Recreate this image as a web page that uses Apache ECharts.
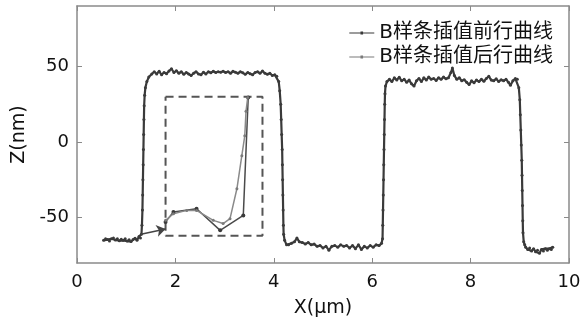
<!DOCTYPE html>
<html lang="zh">
<head>
    <meta charset="UTF-8">
    <title>B样条插值</title>
    <script src="https://cdn.jsdelivr.net/npm/echarts@6/dist/echarts.min.js"></script>
</head>
<body style="margin:0">
<div id="main" style="width: 584px;height:333px;"></div>

<script type="text/javascript">
    // 表面轮廓数据 [X(μm), Z(nm)]，按段读取
    var baseLeft = [[0.54,-65],[0.58,-64],[0.62,-64.5],[0.66,-65.5],[0.70,-64],[0.74,-63.5],[0.78,-64.8],[0.82,-64],
        [0.86,-65.2],[0.90,-64.3],[0.94,-65],[0.98,-64],[1.02,-65.5],[1.06,-64.6],[1.10,-65.8],[1.14,-64.5],
        [1.18,-63.6],[1.22,-65],[1.26,-62.5],[1.29,-63.5],[1.31,-61]];
    var riseLeft = [[1.32,-55],[1.33,-45],[1.335,-35],[1.34,-25],[1.345,-15],[1.35,-5],[1.355,5],[1.36,15],
        [1.365,24],[1.375,31],[1.39,36],[1.42,40],[1.46,43]];
    var topLeft = [[1.52,45],[1.57,46.5],[1.62,45],[1.67,46.8],[1.72,44.5],[1.77,46],[1.82,45.2],[1.87,47],[1.92,48.5],
        [1.97,46],[2.02,47.2],[2.07,45.5],[2.12,46.5],[2.17,44.8],[2.22,46],[2.27,45],[2.32,44],[2.37,45.5],
        [2.42,46.5],[2.47,45],[2.52,44.5],[2.57,46.2],[2.62,45],[2.67,46.5],[2.72,45.8],[2.77,46.8],[2.82,46],
        [2.87,46.5],[2.92,46.2],[2.97,46.8],[3.02,46],[3.07,46.5],[3.12,45.5],[3.17,46.8],[3.22,46.2],[3.27,45.5],
        [3.32,46.5],[3.37,45.8],[3.42,44.8],[3.47,46],[3.52,45.2],[3.57,44.5],[3.62,46],[3.67,46.5],[3.72,45.5],
        [3.77,47],[3.82,45.5],[3.87,44.8],[3.92,45.5],[3.97,44],[4.02,44.5],[4.06,43.5]];
    var fallLeft = [[4.10,40],[4.12,34],[4.14,25],[4.15,15],[4.16,5],[4.17,-5],[4.175,-15],[4.18,-25],[4.185,-35],
        [4.19,-45],[4.195,-55],[4.20,-61],[4.22,-65],[4.26,-68]];
    var baseMid = [[4.30,-68],[4.36,-67],[4.42,-66],[4.47,-63.5],[4.52,-66],[4.58,-66.5],[4.64,-67.5],[4.70,-66.5],
        [4.76,-68],[4.82,-67.5],[4.88,-69],[4.94,-68.5],[5.00,-70],[5.06,-69],[5.12,-71.5],[5.18,-69],[5.24,-68.5],
        [5.30,-69.5],[5.36,-68],[5.42,-69],[5.48,-68.5],[5.54,-70],[5.60,-68.5],[5.66,-70.5],[5.72,-68],[5.78,-71],
        [5.84,-69],[5.90,-70],[5.96,-68.5],[6.02,-69.5],[6.08,-68],[6.14,-68.5],[6.19,-67]];
    var riseRight = [[6.21,-64],[6.215,-55],[6.22,-45],[6.225,-35],[6.23,-25],[6.235,-15],[6.24,-5],[6.245,5],
        [6.25,15],[6.255,25],[6.26,32],[6.27,37]];
    var topRight = [[6.30,40],[6.35,41.5],[6.40,40],[6.45,42.5],[6.50,41],[6.55,42.8],[6.60,40.5],[6.65,41.5],
        [6.70,39.5],[6.75,41],[6.80,38.5],[6.85,37],[6.90,40.5],[6.95,42],[7.00,40],[7.05,42.5],[7.10,41],[7.15,43],
        [7.20,41.5],[7.25,42],[7.30,40.8],[7.35,42.5],[7.40,41.5],[7.45,43],[7.50,41.8],[7.55,42.5],[7.60,46],
        [7.63,49],[7.67,44],[7.72,41.5],[7.77,42.5],[7.82,40.5],[7.87,41.2],[7.92,39.5],[7.97,38],[8.02,40.5],
        [8.07,39.2],[8.12,41],[8.17,40],[8.22,41.5],[8.27,40.2],[8.32,42],[8.37,43.5],[8.42,41],[8.47,40.5],
        [8.52,41.8],[8.57,40],[8.62,41.2],[8.67,40.5],[8.72,41.5],[8.77,39.5],[8.81,37.5],[8.86,40.5],[8.91,42],
        [8.95,41.5]];
    var fallRight = [[8.98,36],[9.00,28],[9.01,18],[9.02,8],[9.03,-2],[9.04,-12],[9.045,-22],[9.05,-32],[9.055,-42],
        [9.06,-52],[9.065,-60],[9.08,-66],[9.10,-68]];
    var baseRight = [[9.12,-69.5],[9.16,-71],[9.20,-70],[9.24,-72],[9.28,-70.5],[9.32,-72.5],[9.36,-71.5],[9.40,-73.5],
        [9.44,-71],[9.48,-72],[9.52,-70.5],[9.56,-71.5],[9.60,-70.5],[9.64,-71],[9.67,-69.5]];

    // 局部放大图（虚线框内）
    var insetBefore = [[1.80,-52.8],[1.96,-46.3],[2.43,-44.1],[2.91,-58.4],[3.38,-48.5],[3.48,29.4]];
    var insetAfter = [[1.80,-51.8],[1.96,-47.4],[2.23,-45.2],[2.43,-45.2],[2.77,-51.8],[2.97,-53.9],[3.11,-50.7],
        [3.25,-30.9],[3.35,-9.0],[3.41,4.1],[3.435,20.4],[3.47,29.4]];
    var zoomBox = [[1.80,30],[3.77,30],[3.77,-62],[1.80,-62],[1.80,30]];
    var arrowFrom = [1.30,-61], arrowTo = [1.80,-57.5];

    var yTicks = [-50, 0, 50];
    var names = ['B样条插值前行曲线', 'B样条插值后行曲线'];

    var profile = [].concat(baseLeft, riseLeft, topLeft, fallLeft, baseMid, riseRight, topRight, fallRight, baseRight);

    var myChart = echarts.init(document.getElementById('main'));
    var axisCol = '#8a8a8a';
    var numFont = {fontFamily: 'DejaVu Sans', fontSize: 18, color: '#111'};
    // 图例图标：细线 + 中间小点
    var legendIcon = 'path://M0,4.4H25V5.6H0Z M11.2,3.6H13.8V6.4H11.2Z';

    function edgeAxis(extra) {
        return Object.assign({
            type: 'value',
            axisLine: {show: true, onZero: false, lineStyle: {color: axisCol, width: 1.5}},
            axisTick: {inside: true, length: 5, lineStyle: {color: axisCol}},
            splitLine: {show: false}
        }, extra);
    }

    var option = {
        animation: false,
        backgroundColor: '#fff',
        grid: {left: 77, right: 15, top: 6, bottom: 70},
        legend: {
            data: [{name: names[0], icon: legendIcon}, {name: names[1], icon: legendIcon}],
            orient: 'vertical',
            right: 26,
            top: 18,
            itemWidth: 25,
            itemHeight: 10,
            itemGap: 4,
            textStyle: {fontFamily: 'DejaVu Sans, Noto Sans CJK SC', fontSize: 20, color: '#111'}
        },
        xAxis: [
            edgeAxis({
                min: 0, max: 10, interval: 2, position: 'bottom',
                name: 'X(μm)', nameLocation: 'middle', nameGap: 36,
                nameTextStyle: {fontFamily: 'DejaVu Sans', fontSize: 19, color: '#111'},
                axisLabel: Object.assign({margin: 10}, numFont)
            }),
            edgeAxis({min: 0, max: 10, interval: 2, position: 'top', axisLabel: {show: false}})
        ],
        yAxis: [
            edgeAxis({
                min: -80, max: 90, position: 'left',
                name: 'Z(nm)', nameLocation: 'middle', nameGap: 48, nameRotate: 90,
                nameTextStyle: {fontFamily: 'DejaVu Sans', fontSize: 19, color: '#111'},
                axisTick: {inside: true, length: 5, customValues: yTicks, lineStyle: {color: axisCol}},
                axisLabel: Object.assign({margin: 8, customValues: yTicks}, numFont)
            }),
            edgeAxis({
                min: -80, max: 90, position: 'right',
                axisTick: {inside: true, length: 5, customValues: yTicks, lineStyle: {color: axisCol}},
                axisLabel: {show: false}
            })
        ],
        series: [
            {
                name: names[0], type: 'line', data: profile,
                symbol: 'circle', symbolSize: 3, showAllSymbol: true,
                itemStyle: {color: '#3a3a3a'},
                lineStyle: {color: '#3a3a3a', width: 2.2},
                z: 3
            },
            {
                name: names[0], type: 'line', data: insetBefore,
                symbol: 'circle', symbolSize: 4,
                itemStyle: {color: '#3a3a3a'},
                lineStyle: {color: '#4a4a4a', width: 1.5},
                z: 4
            },
            {
                name: names[1], type: 'line', data: insetAfter,
                symbol: 'circle', symbolSize: 3,
                itemStyle: {color: '#7a7a7a'},
                lineStyle: {color: '#8a8a8a', width: 1.5},
                z: 4
            },
            {
                name: 'box', type: 'line', data: zoomBox, symbol: 'none',
                lineStyle: {color: '#555', width: 2, type: [8, 5]},
                markLine: {
                    silent: true,
                    symbol: ['none', 'arrow'],
                    symbolSize: 9,
                    label: {show: false},
                    lineStyle: {color: '#444', width: 1.5, type: 'solid'},
                    data: [[{coord: arrowFrom}, {coord: arrowTo}]]
                },
                z: 2
            }
        ]
    };
    myChart.setOption(option);
</script>
</body>
</html>
